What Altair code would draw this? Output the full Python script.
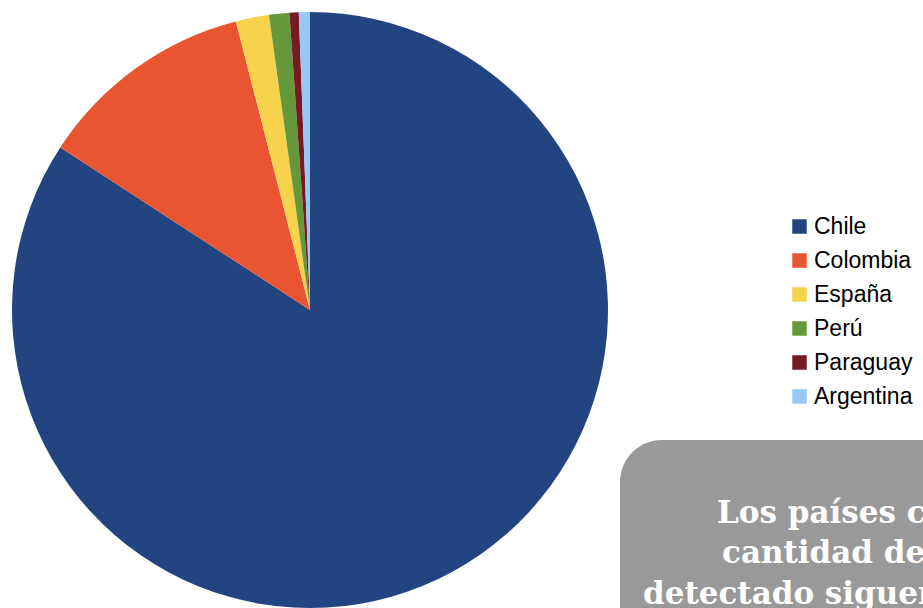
import altair as alt
import pandas as pd

countries = ["Chile", "Colombia", "España", "Perú", "Paraguay", "Argentina"]
shares = [84.1, 11.8, 1.8, 1.1, 0.5, 0.6]
colors = ["#224480", "#e95530", "#f7d24c", "#64983a", "#771a28", "#98c8f4"]

box_lines = ["Los países con mayor", "cantidad de casos", "detectado siguen"]
box_line_x = [717, 722, 643]
box_line_y = [523, 563, 604]

df = pd.DataFrame({"pais": countries, "valor": shares, "orden": list(range(len(countries)))})

pie = alt.Chart(df).mark_arc(outerRadius=298, stroke=None).encode(
    theta=alt.Theta("valor:Q", stack=True),
    order=alt.Order("orden:Q"),
    color=alt.Color(
        "pais:N",
        scale=alt.Scale(domain=countries, range=colors),
        sort=countries,
        legend=alt.Legend(
            title=None,
            orient="none",
            legendX=788,
            legendY=215,
            symbolType="square",
            symbolSize=210,
            symbolStrokeWidth=0,
            labelFont="Liberation Sans",
            labelFontSize=23,
            labelColor="#000000",
            rowPadding=10,
            labelOffset=3,
        ),
    ),
    x=alt.value(310),
    y=alt.value(310),
)

box = alt.Chart(pd.DataFrame({"k": [0]})).mark_rect(
    color="#999999", cornerRadius=42, clip=True
).encode(
    x=alt.value(620), x2=alt.value(1100), y=alt.value(440), y2=alt.value(800)
)

tdf = pd.DataFrame({"t": box_lines, "x": box_line_x, "y": box_line_y})
texts = alt.Chart(tdf).mark_text(
    font="DejaVu Serif", fontWeight="bold", fontSize=31, color="white",
    align="left", baseline="alphabetic", clip=True
).encode(
    text="t:N",
    x=alt.X("x:Q", scale=alt.Scale(domain=[0, 923], range=[0, 923]), axis=None),
    y=alt.Y("y:Q", scale=alt.Scale(domain=[0, 608], range=[0, 608]), axis=None),
)

chart = alt.layer(pie, box, texts).resolve_scale(x="independent", y="independent").properties(
    width=923, height=608, padding=0, autosize=alt.AutoSizeParams(type="none")
).configure_view(stroke=None)

chart.save("out.html", embed_options={"renderer": "svg", "actions": False})
